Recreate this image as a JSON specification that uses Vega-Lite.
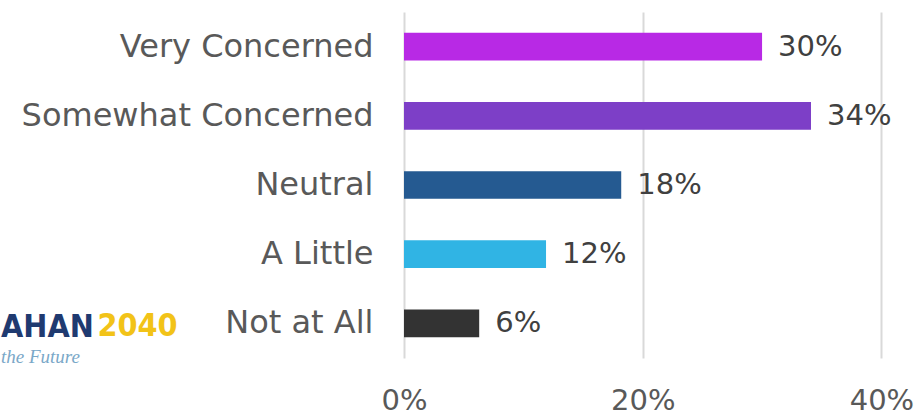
{
  "$schema": "https://vega.github.io/schema/vega-lite/v6.json",
  "width": 518,
  "height": 346,
  "autosize": {"type": "none"},
  "padding": {"left": 404, "top": 12, "right": 0, "bottom": 60},
  "background": "white",
  "config": {"view": {"stroke": null}, "font": "DejaVu Sans"},
  "title": {
    "text": "AHAN",
    "subtitle": "the Future",
    "orient": "top",
    "anchor": "start",
    "frame": "group",
    "dx": -403,
    "dy": 360,
    "color": "#1f3a70",
    "font": "DejaVu Sans Condensed, Liberation Sans",
    "fontWeight": "bold",
    "fontSize": 32,
    "subtitleColor": "#7aa8c8",
    "subtitleFont": "Liberation Serif",
    "subtitleFontStyle": "italic",
    "subtitleFontSize": 19,
    "subtitlePadding": 4
  },
  "data": {
    "values": [
      {"category": "Very Concerned", "share": 0.30},
      {"category": "Somewhat Concerned", "share": 0.341},
      {"category": "Neutral", "share": 0.182},
      {"category": "A Little", "share": 0.119},
      {"category": "Not at All", "share": 0.063}
    ]
  },
  "encoding": {
    "y": {
      "field": "category",
      "type": "nominal",
      "sort": null,
      "scale": {"paddingInner": 0.6, "paddingOuter": 0.3},
      "axis": {
        "domain": false,
        "ticks": false,
        "labelFontSize": 32,
        "labelColor": "#595959",
        "labelPadding": 31,
        "labelLimit": 450,
        "labelFont": "DejaVu Sans",
        "title": "2040",
        "titleAngle": 0,
        "titleAlign": "left",
        "titleBaseline": "alphabetic",
        "titleX": -307,
        "titleY": 323,
        "titleColor": "#f2c318",
        "titleFont": "DejaVu Sans Condensed, Liberation Sans",
        "titleFontWeight": "bold",
        "titleFontSize": 32
      }
    },
    "x": {
      "field": "share",
      "type": "quantitative",
      "scale": {"domain": [0, 0.434], "nice": false},
      "axis": {
        "values": [0, 0.2, 0.4],
        "format": ".0%",
        "title": null,
        "grid": true,
        "gridColor": "#d9d9d9",
        "gridWidth": 2,
        "domain": false,
        "ticks": false,
        "labelFlush": false,
        "labelFontSize": 29,
        "labelColor": "#595959",
        "labelPadding": 28,
        "labelFont": "DejaVu Sans"
      }
    }
  },
  "layer": [
    {
      "mark": {"type": "bar"},
      "encoding": {
        "color": {
          "field": "category",
          "type": "nominal",
          "scale": {
            "domain": ["Very Concerned", "Somewhat Concerned", "Neutral", "A Little", "Not at All"],
            "range": ["#b829e5", "#7d3fc7", "#255a91", "#30b4e4", "#333333"]
          },
          "legend": null
        }
      }
    },
    {
      "mark": {"type": "text", "align": "left", "baseline": "middle", "dx": 16, "fontSize": 29, "color": "#404040", "font": "DejaVu Sans"},
      "encoding": {
        "text": {"field": "share", "type": "quantitative", "format": ".0%"}
      }
    }
  ]
}
